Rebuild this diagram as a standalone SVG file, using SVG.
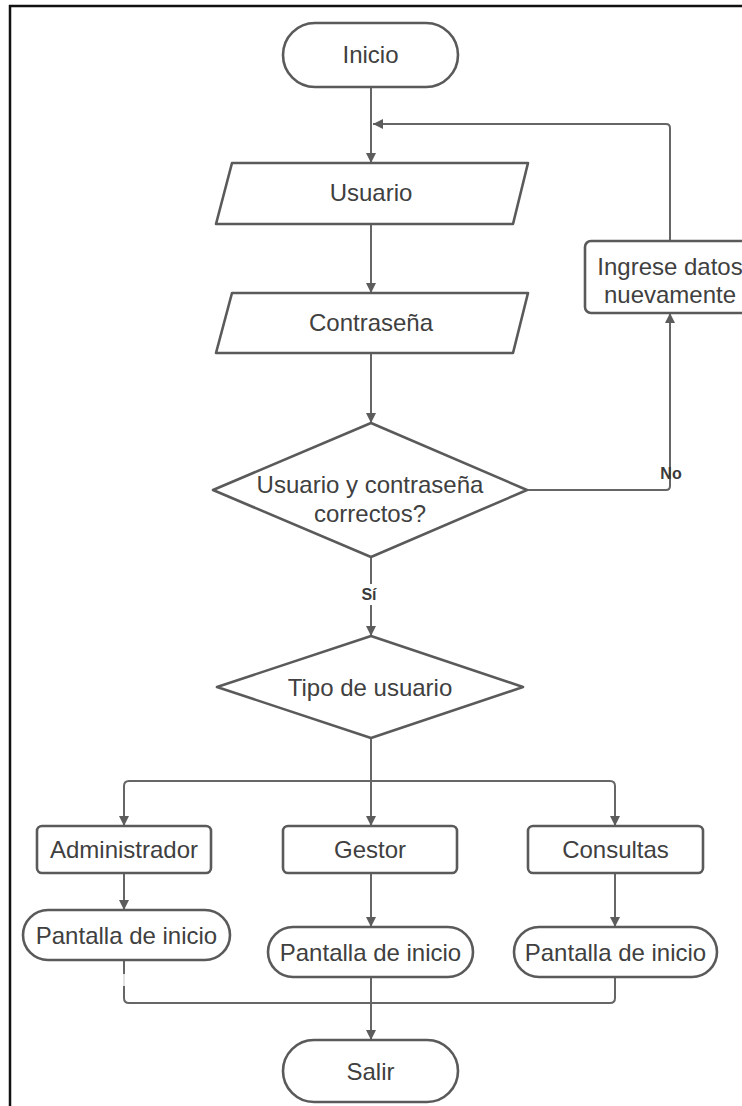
<svg xmlns="http://www.w3.org/2000/svg" width="742" height="1106" viewBox="0 0 742 1106">
  <defs>
    <marker id="arrow" viewBox="0 0 10 10" refX="10" refY="5" markerWidth="10" markerHeight="10" markerUnits="userSpaceOnUse" orient="auto">
      <path d="M0,0 L10,5 L0,10 Z" fill="#5c5c5c"/>
    </marker>
    <style>
      .shape { fill: #ffffff; stroke: #5a5a5a; stroke-width: 2.6; stroke-linejoin: round; }
      .line { fill: none; stroke: #666666; stroke-width: 2; }
      .faint { fill: none; stroke: #d8d8d8; stroke-width: 1.5; }
      .txt { font-family: "Liberation Sans", Arial, sans-serif; font-size: 24px; fill: #404040; text-anchor: middle; dominant-baseline: central; }
      .lbl { font-family: "Liberation Sans", Arial, sans-serif; font-size: 16px; font-weight: bold; fill: #3a3a3a; text-anchor: middle; dominant-baseline: central; }
    </style>
  </defs>

  <rect width="742" height="1106" fill="#ffffff"/>

  <!-- outer frame (top and left edges) -->
  <g id="frame" stroke="#111111" stroke-width="2.5" fill="none">
    <line x1="9" y1="6" x2="742" y2="6"/>
    <line x1="10" y1="5" x2="10" y2="1106"/>
  </g>

  <!-- connectors -->
  <g id="connectors">
    <line class="line" x1="371" y1="87" x2="371" y2="163" marker-end="url(#arrow)"/>
    <path class="line" d="M670,241 V128 Q670,124 666,124 H373" marker-end="url(#arrow)"/>
    <line class="line" x1="371" y1="224" x2="371" y2="293" marker-end="url(#arrow)"/>
    <line class="line" x1="371" y1="353" x2="371" y2="423" marker-end="url(#arrow)"/>
    <path class="line" d="M527,490 H666 Q670,490 670,486 V313" marker-end="url(#arrow)"/>
    <line class="line" x1="371" y1="557" x2="371" y2="584"/>
    <line class="line" x1="371" y1="605" x2="371" y2="636" marker-end="url(#arrow)"/>
    <line class="line" x1="371" y1="738" x2="371" y2="781"/>
    <path class="line" d="M124,786 Q124,781 129,781 H610 Q615,781 615,786 V826" marker-end="url(#arrow)"/>
    <line class="line" x1="124" y1="785" x2="124" y2="826" marker-end="url(#arrow)"/>
    <line class="line" x1="371" y1="781" x2="371" y2="826" marker-end="url(#arrow)"/>
    <line class="line" x1="124" y1="873" x2="124" y2="910" marker-end="url(#arrow)"/>
    <line class="line" x1="371" y1="873" x2="371" y2="927" marker-end="url(#arrow)"/>
    <line class="line" x1="615" y1="873" x2="615" y2="927" marker-end="url(#arrow)"/>
    <line class="line" x1="124" y1="960" x2="124" y2="974"/>
    <line class="faint" x1="124" y1="974" x2="124" y2="986"/>
    <path class="line" d="M124,986 V998 Q124,1003 129,1003 H610 Q615,1003 615,998 V977"/>
    <line class="line" x1="371" y1="977" x2="371" y2="1040" marker-end="url(#arrow)"/>
    <text class="lbl" x="671" y="473">No</text>
    <text class="lbl" x="369" y="594">Sí</text>
  </g>

  <g id="inicio">
    <rect class="shape" x="283" y="23" width="175" height="64" rx="32"/>
    <text class="txt" x="370.5" y="54">Inicio</text>
  </g>

  <g id="usuario">
    <path class="shape" d="M232,163 H528 L513,224 H216 Z"/>
    <text class="txt" x="371" y="192">Usuario</text>
  </g>

  <g id="contrasena">
    <path class="shape" d="M232,293 H528 L513,353 H216 Z"/>
    <text class="txt" x="371" y="322">Contraseña</text>
  </g>

  <g id="ingrese">
    <rect class="shape" x="585" y="241" width="170" height="72" rx="6"/>
    <text class="txt" x="670" y="266">Ingrese datos</text>
    <text class="txt" x="670" y="294">nuevamente</text>
  </g>

  <g id="validar">
    <path class="shape" d="M371,423 L527,490 L371,557 L213,490 Z"/>
    <text class="txt" x="370" y="484">Usuario y contraseña</text>
    <text class="txt" x="370" y="513">correctos?</text>
  </g>

  <g id="tipo">
    <path class="shape" d="M371,636 L523,687 L371,738 L217,687 Z"/>
    <text class="txt" x="370" y="687">Tipo de usuario</text>
  </g>

  <g id="administrador">
    <rect class="shape" x="37" y="826" width="174" height="47" rx="5"/>
    <text class="txt" x="124" y="849.5">Administrador</text>
  </g>

  <g id="gestor">
    <rect class="shape" x="283" y="826" width="174" height="47" rx="5"/>
    <text class="txt" x="370" y="849.5">Gestor</text>
  </g>

  <g id="consultas">
    <rect class="shape" x="528" y="826" width="175" height="47" rx="5"/>
    <text class="txt" x="615.5" y="849.5">Consultas</text>
  </g>

  <g id="pantalla-admin">
    <rect class="shape" x="23" y="910" width="207" height="50" rx="25"/>
    <text class="txt" x="126.5" y="935">Pantalla de inicio</text>
  </g>

  <g id="pantalla-gestor">
    <rect class="shape" x="268" y="927" width="205" height="50" rx="25"/>
    <text class="txt" x="370.5" y="952">Pantalla de inicio</text>
  </g>

  <g id="pantalla-consultas">
    <rect class="shape" x="514" y="927" width="203" height="50" rx="25"/>
    <text class="txt" x="615.5" y="952">Pantalla de inicio</text>
  </g>

  <g id="salir">
    <rect class="shape" x="283" y="1040" width="175" height="62" rx="31"/>
    <text class="txt" x="370.5" y="1071">Salir</text>
  </g>
</svg>
